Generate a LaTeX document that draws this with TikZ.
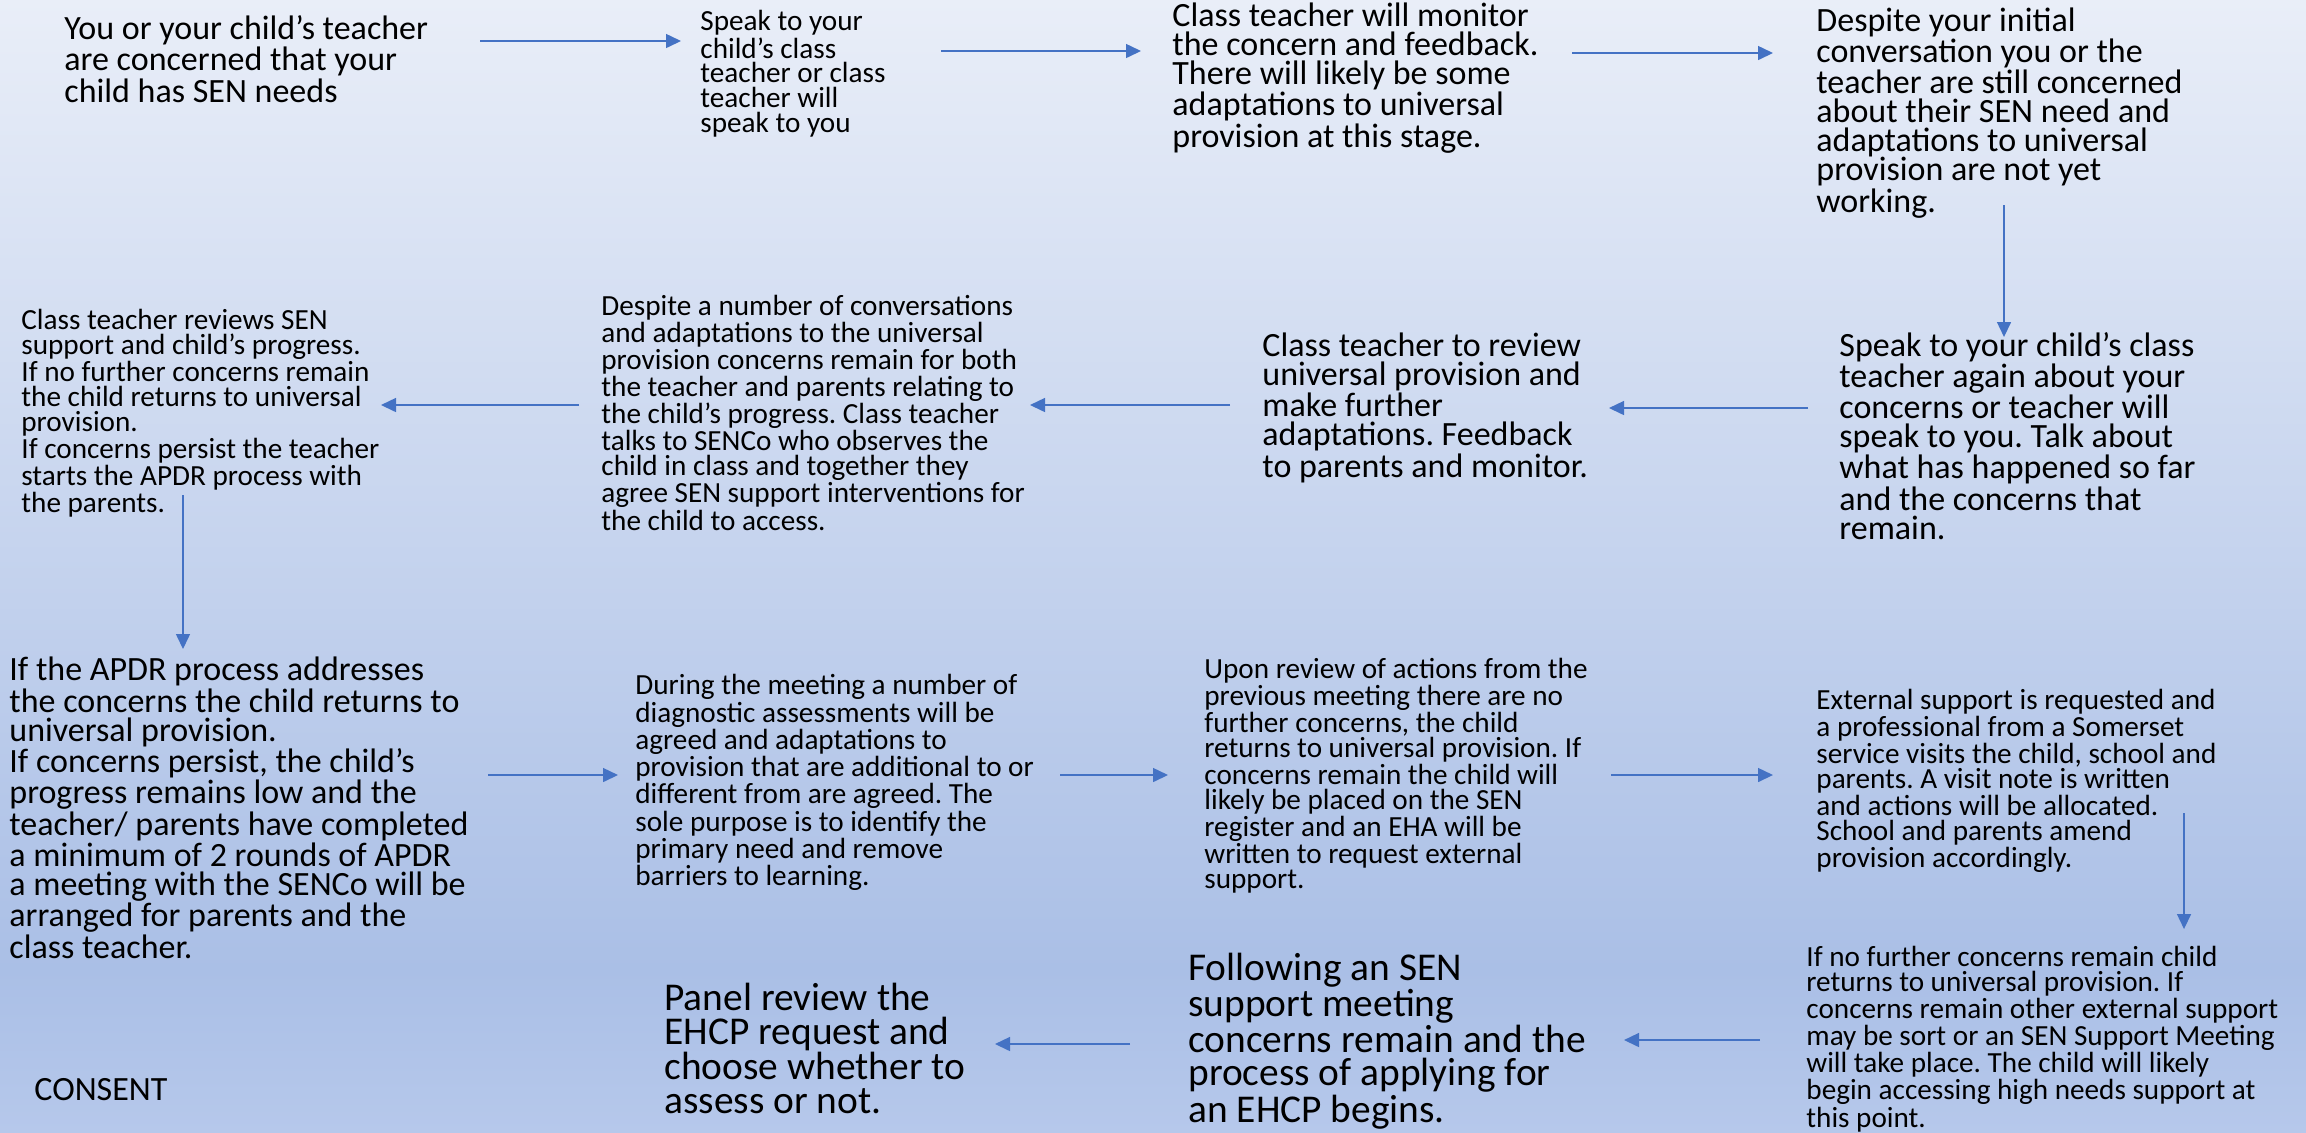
\documentclass[tikz,border=0pt]{standalone}
\usepackage{fontspec}
\setmainfont{Carlito}
\usetikzlibrary{arrows.meta}
\frenchspacing

\definecolor{bgtop}{HTML}{E9EEF8}
\definecolor{bgmid}{HTML}{CAD6EF}
\definecolor{bglow}{HTML}{AABFE6}
\definecolor{bgend}{HTML}{B6C8EB}
\definecolor{flowblue}{HTML}{4472C4}

\begin{document}
\begin{tikzpicture}[x=0.5pt, y=-0.5pt,
        bigtxt/.style={anchor=base west, inner sep=0pt, align=left, font=\fontsize{17}{14.5}\selectfont},
        smalltxt/.style={anchor=base west, inner sep=0pt, align=left, font=\fontsize{14.6}{12.3}\selectfont},
        hugetxt/.style={anchor=base west, inner sep=0pt, align=left, font=\fontsize{19.7}{16.6}\selectfont},
        flow/.style={-{Triangle[length=7.5pt, width=7pt]}, draw=flowblue, line width=0.75pt}]
        \useasboundingbox (0,0) rectangle (2306,1132);
        \shade[top color=bgtop, middle color=bgmid, bottom color=bglow] (0,0) rectangle (2306,970);
        \shade[top color=bglow, bottom color=bgend] (0,969) rectangle (2306,1132);

        % first row (placed by the baseline of the last line)
        \node[bigtxt] (concern) at (64,102) {You or your child’s teacher\\are concerned that your\\child has SEN needs};
        \node[smalltxt] (speak) at (700,132) {Speak to your\\child’s class\\teacher or class\\teacher will\\speak to you};
        \node[bigtxt] (monitor) at (1172,147) {Class teacher will monitor\\the concern and feedback.\\There will likely be some\\adaptations to universal\\provision at this stage.};
        \node[bigtxt] (despite) at (1816,212) {Despite your initial\\conversation you or the\\teacher are still concerned\\about their SEN need and\\adaptations to universal\\provision are not yet\\working.};

        % second row
        \node[bigtxt] (again) at (1839,539) {Speak to your child’s class\\teacher again about your\\concerns or teacher will\\speak to you. Talk about\\what has happened so far\\and the concerns that\\remain.};
        \node[bigtxt] (review) at (1262,477) {Class teacher to review\\universal provision and\\make further\\adaptations. Feedback\\to parents and monitor.};
        \node[smalltxt] (senco) at (601,530) {Despite a number of conversations\\and adaptations to the universal\\provision concerns remain for both\\the teacher and parents relating to\\the child’s progress. Class teacher\\talks to SENCo who observes the\\child in class and together they\\agree SEN support interventions for\\the child to access.};
        \node[smalltxt] (apdr) at (21,512) {Class teacher reviews SEN\\support and child’s progress.\\If no further concerns remain\\the child returns to universal\\provision.\\If concerns persist the teacher\\starts the APDR process with\\the parents.};

        % third row
        \node[bigtxt] (persist) at (9,958) {If the APDR process addresses\\the concerns the child returns to\\universal provision.\\If concerns persist, the child’s\\progress remains low and the\\teacher/ parents have completed\\a minimum of 2 rounds of APDR\\a meeting with the SENCo will be\\arranged for parents and the\\class teacher.};
        \node[smalltxt] (meeting) at (635,885) {During the meeting a number of\\diagnostic assessments will be\\agreed and adaptations to\\provision that are additional to or\\different from are agreed. The\\sole purpose is to identify the\\primary need and remove\\barriers to learning.};
        \node[smalltxt] (actions) at (1204,888) {Upon review of actions from the\\previous meeting there are no\\further concerns, the child\\returns to universal provision. If\\concerns remain the child will\\likely be placed on the SEN\\register and an EHA will be\\written to request external\\support.};
        \node[smalltxt] (external) at (1816,867) {External support is requested and\\a professional from a Somerset\\service visits the child, school and\\parents. A visit note is written\\and actions will be allocated.\\School and parents amend\\provision accordingly.};

        % fourth row
        \node[smalltxt] (highneeds) at (1806,1127) {If no further concerns remain child\\returns to universal provision. If\\concerns remain other external support\\may be sort or an SEN Support Meeting\\will take place. The child will likely\\begin accessing high needs support at\\this point.};
        \node[hugetxt] (ehcp) at (1188,1122) {Following an SEN\\support meeting\\concerns remain and the\\process of applying for\\an EHCP begins.};
        \node[hugetxt] (panel) at (664,1113) {Panel review the\\EHCP request and\\choose whether to\\assess or not.};
        \node[bigtxt] (consent) at (34,1100) {CONSENT};

        % arrow ends
        \coordinate (concern-out) at (480,41);
        \coordinate (speak-in) at (681,41);
        \coordinate (speak-out) at (941,51);
        \coordinate (monitor-in) at (1141,51);
        \coordinate (monitor-out) at (1572,53);
        \coordinate (despite-in) at (1773,53);
        \coordinate (despite-out) at (2004,205);
        \coordinate (again-in) at (2004,337);
        \coordinate (again-out) at (1808,408);
        \coordinate (review-in) at (1609,408);
        \coordinate (review-out) at (1230,405);
        \coordinate (senco-in) at (1030,405);
        \coordinate (senco-out) at (579,405);
        \coordinate (apdr-in) at (381,405);
        \coordinate (apdr-out) at (183,495);
        \coordinate (persist-in) at (183,649);
        \coordinate (persist-out) at (488,775);
        \coordinate (meeting-in) at (618,775);
        \coordinate (meeting-out) at (1060,775);
        \coordinate (actions-in) at (1168,775);
        \coordinate (actions-out) at (1611,775);
        \coordinate (external-in) at (1773,775);
        \coordinate (external-out) at (2184,813);
        \coordinate (highneeds-in) at (2184,929);
        \coordinate (highneeds-out) at (1760,1040);
        \coordinate (ehcp-in) at (1624,1040);
        \coordinate (ehcp-out) at (1130,1044);
        \coordinate (panel-in) at (995,1044);

        \draw[flow] (concern-out) -- (speak-in);
        \draw[flow] (speak-out) -- (monitor-in);
        \draw[flow] (monitor-out) -- (despite-in);
        \draw[flow] (despite-out) -- (again-in);
        \draw[flow] (again-out) -- (review-in);
        \draw[flow] (review-out) -- (senco-in);
        \draw[flow] (senco-out) -- (apdr-in);
        \draw[flow] (apdr-out) -- (persist-in);
        \draw[flow] (persist-out) -- (meeting-in);
        \draw[flow] (meeting-out) -- (actions-in);
        \draw[flow] (actions-out) -- (external-in);
        \draw[flow] (external-out) -- (highneeds-in);
        \draw[flow] (highneeds-out) -- (ehcp-in);
        \draw[flow] (ehcp-out) -- (panel-in);
    \end{tikzpicture}
\end{document}
